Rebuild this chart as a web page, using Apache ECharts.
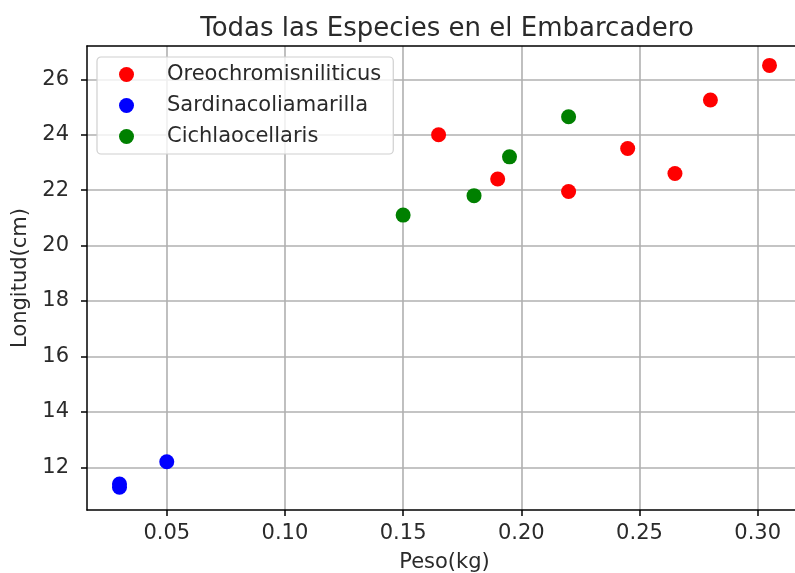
<!DOCTYPE html>
<html>
<head>
<meta charset="utf-8">
<script src="https://cdn.jsdelivr.net/npm/echarts@6/dist/echarts.min.js"></script>
<style>
  html, body { margin: 0; padding: 0; background: #fff; }
  #chart { width: 795px; height: 573px; }
</style>
</head>
<body>
<div id="chart"></div>
<script>
// Peso (kg) and longitud (cm) for each species
const oreoPeso = [0.165, 0.19, 0.22, 0.245, 0.265, 0.28, 0.305];
const oreoLong = [24.0, 22.4, 21.95, 23.5, 22.6, 25.25, 26.5];
const sardPeso = [0.03, 0.03, 0.05];
const sardLong = [11.4, 11.28, 12.2];
const cichPeso = [0.15, 0.18, 0.195, 0.22];
const cichLong = [21.1, 21.8, 23.2, 24.65];

const seriesNames = ['Oreochromisniliticus', 'Sardinacoliamarilla', 'Cichlaocellaris'];
const seriesColors = ['#ff0000', '#0000ff', '#008000'];

const xTicks = [0.05, 0.10, 0.15, 0.20, 0.25, 0.30];
const yTicks = [12, 14, 16, 18, 20, 22, 24, 26];
const xRange = [0.01625, 0.31875];
const yRange = [10.46, 27.2];

const pairs = (xs, ys) => xs.map((x, i) => [x, ys[i]]);
const seriesData = [pairs(oreoPeso, oreoLong), pairs(sardPeso, sardLong), pairs(cichPeso, cichLong)];

const FONT = 'DejaVu Sans';
const TEXT = '#2a2a2a';
const chart = echarts.init(document.getElementById('chart'), null, { renderer: 'canvas' });

const gridLine = { show: true, lineStyle: { color: '#b0b0b0', width: 1.6 } };
const spine = { show: true, lineStyle: { color: '#000', width: 1.5 } };

chart.setOption({
  backgroundColor: '#fff',
  animation: false,
  title: {
    text: 'Todas las Especies en el Embarcadero',
    left: 442, textAlign: 'center', top: 11,
    textStyle: { fontFamily: FONT, fontSize: 26, fontWeight: 'normal', color: TEXT }
  },
  legend: {
    data: seriesNames,
    orient: 'vertical',
    left: 97, top: 57,
    padding: [7, 12, 7, 22],
    itemGap: 10,
    itemWidth: 15, itemHeight: 15,
    icon: 'circle',
    backgroundColor: 'rgba(255,255,255,0.8)',
    borderColor: '#d0d0d0', borderWidth: 1.2, borderRadius: 4,
    textStyle: { fontFamily: FONT, fontSize: 21, color: TEXT, padding: [0, 0, 0, 28] }
  },
  grid: { left: 87, top: 46, right: -7, bottom: 63, containLabel: false, outerBoundsMode: 'none' },
  xAxis: [{
    type: 'value', position: 'bottom',
    min: xRange[0], max: xRange[1],
    name: 'Peso(kg)', nameLocation: 'middle', nameGap: 42,
    nameTextStyle: { fontFamily: FONT, fontSize: 21, color: TEXT },
    axisLine: spine,
    axisTick: { show: true, inside: false, length: 6, customValues: xTicks, lineStyle: { color: '#000', width: 1.5 } },
    axisLabel: { customValues: xTicks, margin: 13, fontFamily: FONT, fontSize: 21, color: TEXT,
                 formatter: v => v.toFixed(2) },
    splitLine: gridLine
  }, {
    type: 'value', position: 'top',
    min: xRange[0], max: xRange[1],
    axisLine: spine, axisTick: { show: false }, axisLabel: { show: false }, splitLine: { show: false }
  }],
  yAxis: {
    type: 'value',
    min: yRange[0], max: yRange[1],
    name: 'Longitud(cm)', nameLocation: 'middle', nameGap: 53,
    nameTextStyle: { fontFamily: FONT, fontSize: 21, color: TEXT },
    axisLine: spine,
    axisTick: { show: true, inside: false, length: 6, customValues: yTicks, lineStyle: { color: '#000', width: 1.5 } },
    axisLabel: { customValues: yTicks, margin: 18, fontFamily: FONT, fontSize: 21, color: TEXT },
    splitLine: gridLine
  },
  series: seriesNames.map((name, i) => ({
    name,
    type: 'scatter',
    xAxisIndex: 0,
    symbol: 'circle',
    symbolSize: 15,
    itemStyle: { color: seriesColors[i], opacity: 1 },
    data: seriesData[i]
  }))
});
</script>
</body>
</html>
